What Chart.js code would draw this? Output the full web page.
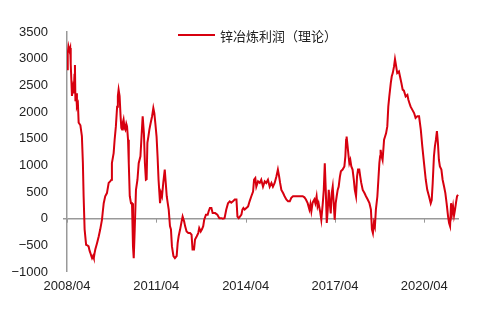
<!DOCTYPE html>
<html>
<head>
<meta charset="utf-8">
<script src="https://cdn.jsdelivr.net/npm/chart.js@4/dist/chart.umd.min.js"></script>
<style>
  html, body { margin: 0; padding: 0; background: #fff; }
</style>
</head>
<body>
<canvas id="chart" width="484" height="313"></canvas>
<script>
// months counted from 2008/04
const months = [
    0, 0.3, 0.6, 1.0, 1.3, 1.5, 1.8, 2.0, 2.4, 2.7,
    3.0, 3.2, 3.4, 3.7, 4.0, 4.4, 4.7, 5.0, 5.4, 6.0,
    6.4, 6.7, 7.1, 7.7, 8.2, 8.7, 9.1, 9.4, 9.8, 10.1,
    10.5, 10.8, 11.1, 11.4, 12.1, 12.8, 13.4, 14.1, 14.4, 14.8,
    15.4, 16.1, 16.8, 17.4, 17.9, 18.1, 18.8, 19.2, 19.7, 20.2,
    20.5, 20.8, 21.2, 21.6, 21.9, 22.2, 22.5, 22.8, 23.2, 23.5,
    23.9, 24.2, 24.6, 24.9, 25.3, 25.8, 26.2, 26.6, 26.9, 27.3,
    27.8, 28.4, 28.9, 29.6, 30.2, 30.5, 31.0, 31.4, 31.8, 32.1,
    32.4, 32.8, 33.2, 33.7, 34.3, 34.8, 35.2, 35.6, 36.1, 36.5,
    36.9, 37.5, 37.9, 38.3, 38.8, 39.4, 39.8, 40.2, 40.6, 41.0,
    41.5, 41.9, 42.3, 42.9, 43.5, 44.2, 44.6, 45.0, 45.6, 46.2,
    46.6, 47.2, 47.6, 48.2, 48.9, 49.6, 50.2, 50.6, 51.2, 51.6,
    52.3, 52.9, 53.3, 53.9, 54.4, 54.9, 55.3, 56.0, 56.7, 57.1,
    57.6, 58.2, 58.7, 59.7, 60.6, 61.4, 62.2, 62.8, 63.5, 64.2,
    64.9, 65.6, 66.2, 66.9, 67.6, 68.3, 68.7, 69.2, 69.7, 70.3,
    70.7, 71.1, 71.6, 72.3, 73.0, 73.6, 74.3, 75.0, 75.4, 75.9,
    76.3, 77.0, 77.7, 78.3, 79.0, 79.7, 80.3, 81.0, 81.7, 82.4,
    83.0, 83.7, 84.4, 85.0, 85.5, 85.9, 86.4, 87.1, 87.7, 88.4,
    89.1, 89.8, 90.4, 91.1, 91.8, 93.1, 95.0, 95.7, 96.3, 97.0,
    97.7, 98.1, 98.5, 99.0, 99.7, 100.1, 100.6, 101.0, 101.4, 102.0,
    102.5, 103.1, 103.5, 103.9, 104.3, 104.7, 105.1, 105.5, 105.9, 106.3,
    106.7, 107.1, 107.5, 107.9, 108.3, 108.7, 109.1, 109.5, 110.0, 110.4,
    111.1, 111.8, 112.2, 112.5, 112.7, 113.1, 113.5, 113.8, 114.2, 114.6,
    115.1, 115.6, 116.0, 116.5, 116.9, 117.3, 117.8, 118.2, 118.6, 119.2,
    119.9, 120.5, 121.2, 121.9, 122.5, 122.9, 123.3, 123.7, 124.1, 124.5,
    125.1, 125.5, 125.9, 126.2, 126.4, 126.8, 127.2, 127.8, 128.2, 128.6,
    129.1, 129.5, 129.9, 130.5, 130.9, 131.3, 131.8, 132.2, 132.6, 133.1,
    133.8, 134.2, 134.8, 135.3, 135.8, 136.5, 137.2, 137.6, 138.0, 138.5,
    139.2, 139.9, 140.5, 141.2, 141.9, 142.6, 143.2, 143.9, 144.6, 145.2,
    145.9, 146.6, 147.0, 147.4, 147.9, 148.3, 148.7, 149.1, 149.5, 149.9,
    150.3, 150.9, 151.4, 152.0, 152.5, 153.0, 153.6, 154.0, 154.4, 154.8,
    155.2, 155.6, 156.0, 156.4, 156.8, 157.2, 157.6
];

// 锌冶炼利润（理论）, yuan/t
const profit = [
    2800, 3100, 3230, 3150, 3200, 2900, 2550, 2300, 2450, 2350,
    2700, 2880, 2200, 2350, 2100, 2150, 1800, 1780, 1750, 1550,
    1050, 420, -200, -490, -500, -520, -600, -640, -700, -740,
    -700, -740, -650, -580, -460, -330, -200, -20, 120, 290,
    420, 480, 670, 700, 730, 1040, 1230, 1480, 1730, 2100,
    2300, 2420, 2300, 1920, 1700, 1670, 1800, 1860, 1700, 1670,
    1780, 1730, 1480, 1040, 420, 290, 290, -520, -740, -200,
    540, 730, 1040, 1170, 1670, 1920, 1600, 1040, 730, 740,
    1420, 1540, 1670, 1790, 1920, 2075, 1980, 1790, 1540, 1170,
    730, 290, 480, 420, 670, 920, 670, 420, 290, 170,
    -140, -200, -520, -700, -740, -700, -460, -330, -200, -50,
    40, -50, -140, -240, -270, -270, -300, -580, -580, -390,
    -330, -270, -175, -240, -200, -140, -20, 75, 75, 140,
    200, 200, 105, 105, 75, 10, 10, 0, 10, 170,
    290, 325, 300, 325, 360, 360, 40, 10, 40, 75,
    170, 200, 170, 200, 230, 325, 420, 510, 730, 760,
    600, 700, 670, 730, 600, 700, 670, 730, 600, 670,
    600, 670, 790, 920, 790, 670, 540, 480, 420, 360,
    325, 325, 390, 420, 420, 420, 420, 400, 360, 290,
    170, 270, 140, 300, 360, 290, 420, 230, 290, 140,
    -20, 290, 540, 1040, 540, -80, 170, 540, 290, 100,
    480, 600, 290, -20, 290, 420, 540, 600, 790, 890,
    920, 980, 1170, 1480, 1540, 1360, 1170, 1040, 1100, 980,
    920, 730, 540, 420, 790, 920, 920, 790, 670, 540,
    480, 420, 360, 290, 170, -200, -270, -80, -150, 170,
    420, 730, 1040, 1170, 1290, 1170, 1100, 1480, 1540, 1600,
    1730, 2100, 2290, 2540, 2670, 2730, 2850, 2990, 2880, 2730,
    2760, 2670, 2540, 2420, 2400, 2290, 2320, 2230, 2170, 2100,
    2040, 1980, 1890, 1920, 1920, 1670, 1360, 1040, 730, 540,
    420, 290, 350, 670, 1170, 1360, 1480, 1640, 1420, 1100,
    980, 920, 730, 600, 480, 290, 40, -80, -140, 290,
    100, 230, 60, 170, 300, 420, 450
];

const xTickMonths = [0, 36, 72, 108, 144];
const xTickLabels = ['2008/04', '2011/04', '2014/04', '2017/04', '2020/04'];

const seriesName = '锌冶炼利润（理论）';
const lineColor = '#D7000F';

Chart.defaults.font.family = '"Liberation Sans", Arial, sans-serif';
Chart.defaults.color = '#333';

// small tick marks hanging below the zero line
const zeroTicks = {
    id: 'zeroTicks',
    beforeDatasetsDraw(chart) {
        const { ctx, scales: { x, y } } = chart;
        const y0 = y.getPixelForValue(0);
        ctx.save();
        ctx.strokeStyle = '#999';
        ctx.lineWidth = 1;
        xTickMonths.forEach(m => {
            const px = Math.round(x.getPixelForValue(m)) + 0.5;
            ctx.beginPath();
            ctx.moveTo(px, y0);
            ctx.lineTo(px, y0 + 4);
            ctx.stroke();
        });
        ctx.restore();
    }
};

// legend sitting just inside the top of the plot
const innerLegend = {
    id: 'innerLegend',
    afterDraw(chart) {
        const { ctx, chartArea } = chart;
        const ds = chart.data.datasets[0];
        const x0 = chartArea.left + 111;
        const yMid = chartArea.top + 3;
        ctx.save();
        ctx.strokeStyle = ds.borderColor;
        ctx.lineWidth = 2;
        ctx.beginPath();
        ctx.moveTo(x0, yMid);
        ctx.lineTo(x0 + 37, yMid);
        ctx.stroke();
        ctx.fillStyle = '#222';
        ctx.font = '13px "Noto Sans CJK SC", sans-serif';
        ctx.textBaseline = 'middle';
        ctx.textAlign = 'left';
        ctx.fillText(ds.label, x0 + 42, yMid + 1);
        ctx.restore();
    }
};

new Chart(document.getElementById('chart'), {
    type: 'line',
    data: {
        datasets: [{
            label: seriesName,
            data: months.map((m, i) => ({ x: m, y: profit[i] })),
            borderColor: lineColor,
            backgroundColor: lineColor,
            borderWidth: 2,
            pointRadius: 0,
            tension: 0,
            fill: false
        }]
    },
    options: {
        responsive: false,
        animation: false,
        layout: {
            padding: { top: 32, right: 25, bottom: 0, left: 0 }
        },
        scales: {
            x: {
                type: 'linear',
                min: 0,
                max: 158,
                afterBuildTicks: axis => {
                    axis.ticks = xTickMonths.map(v => ({ value: v }));
                },
                afterFit: axis => { axis.height = 41; },
                grid: { display: false, drawTicks: false },
                border: { display: false },
                ticks: {
                    autoSkip: false,
                    maxRotation: 0,
                    padding: 7,
                    color: '#222',
                    font: { size: 13 },
                    callback: (v, i) => xTickLabels[i]
                }
            },
            y: {
                min: -1000,
                max: 3500,
                afterFit: axis => { axis.width = 67; },
                border: { display: true, color: '#999', width: 1.5 },
                grid: {
                    color: c => (c.tick && c.tick.value === 0) ? '#999' : 'rgba(0,0,0,0)',
                    lineWidth: c => (c.tick && c.tick.value === 0) ? 1.5 : 0,
                    tickColor: '#999',
                    tickLength: 4
                },
                ticks: {
                    stepSize: 500,
                    padding: 15,
                    color: '#222',
                    font: { size: 13 },
                    callback: v => v < 0 ? '−' + Math.abs(v) : String(v)
                }
            }
        },
        plugins: {
            legend: { display: false },
            tooltip: { enabled: false }
        }
    },
    plugins: [zeroTicks, innerLegend]
});
</script>
</body>
</html>
